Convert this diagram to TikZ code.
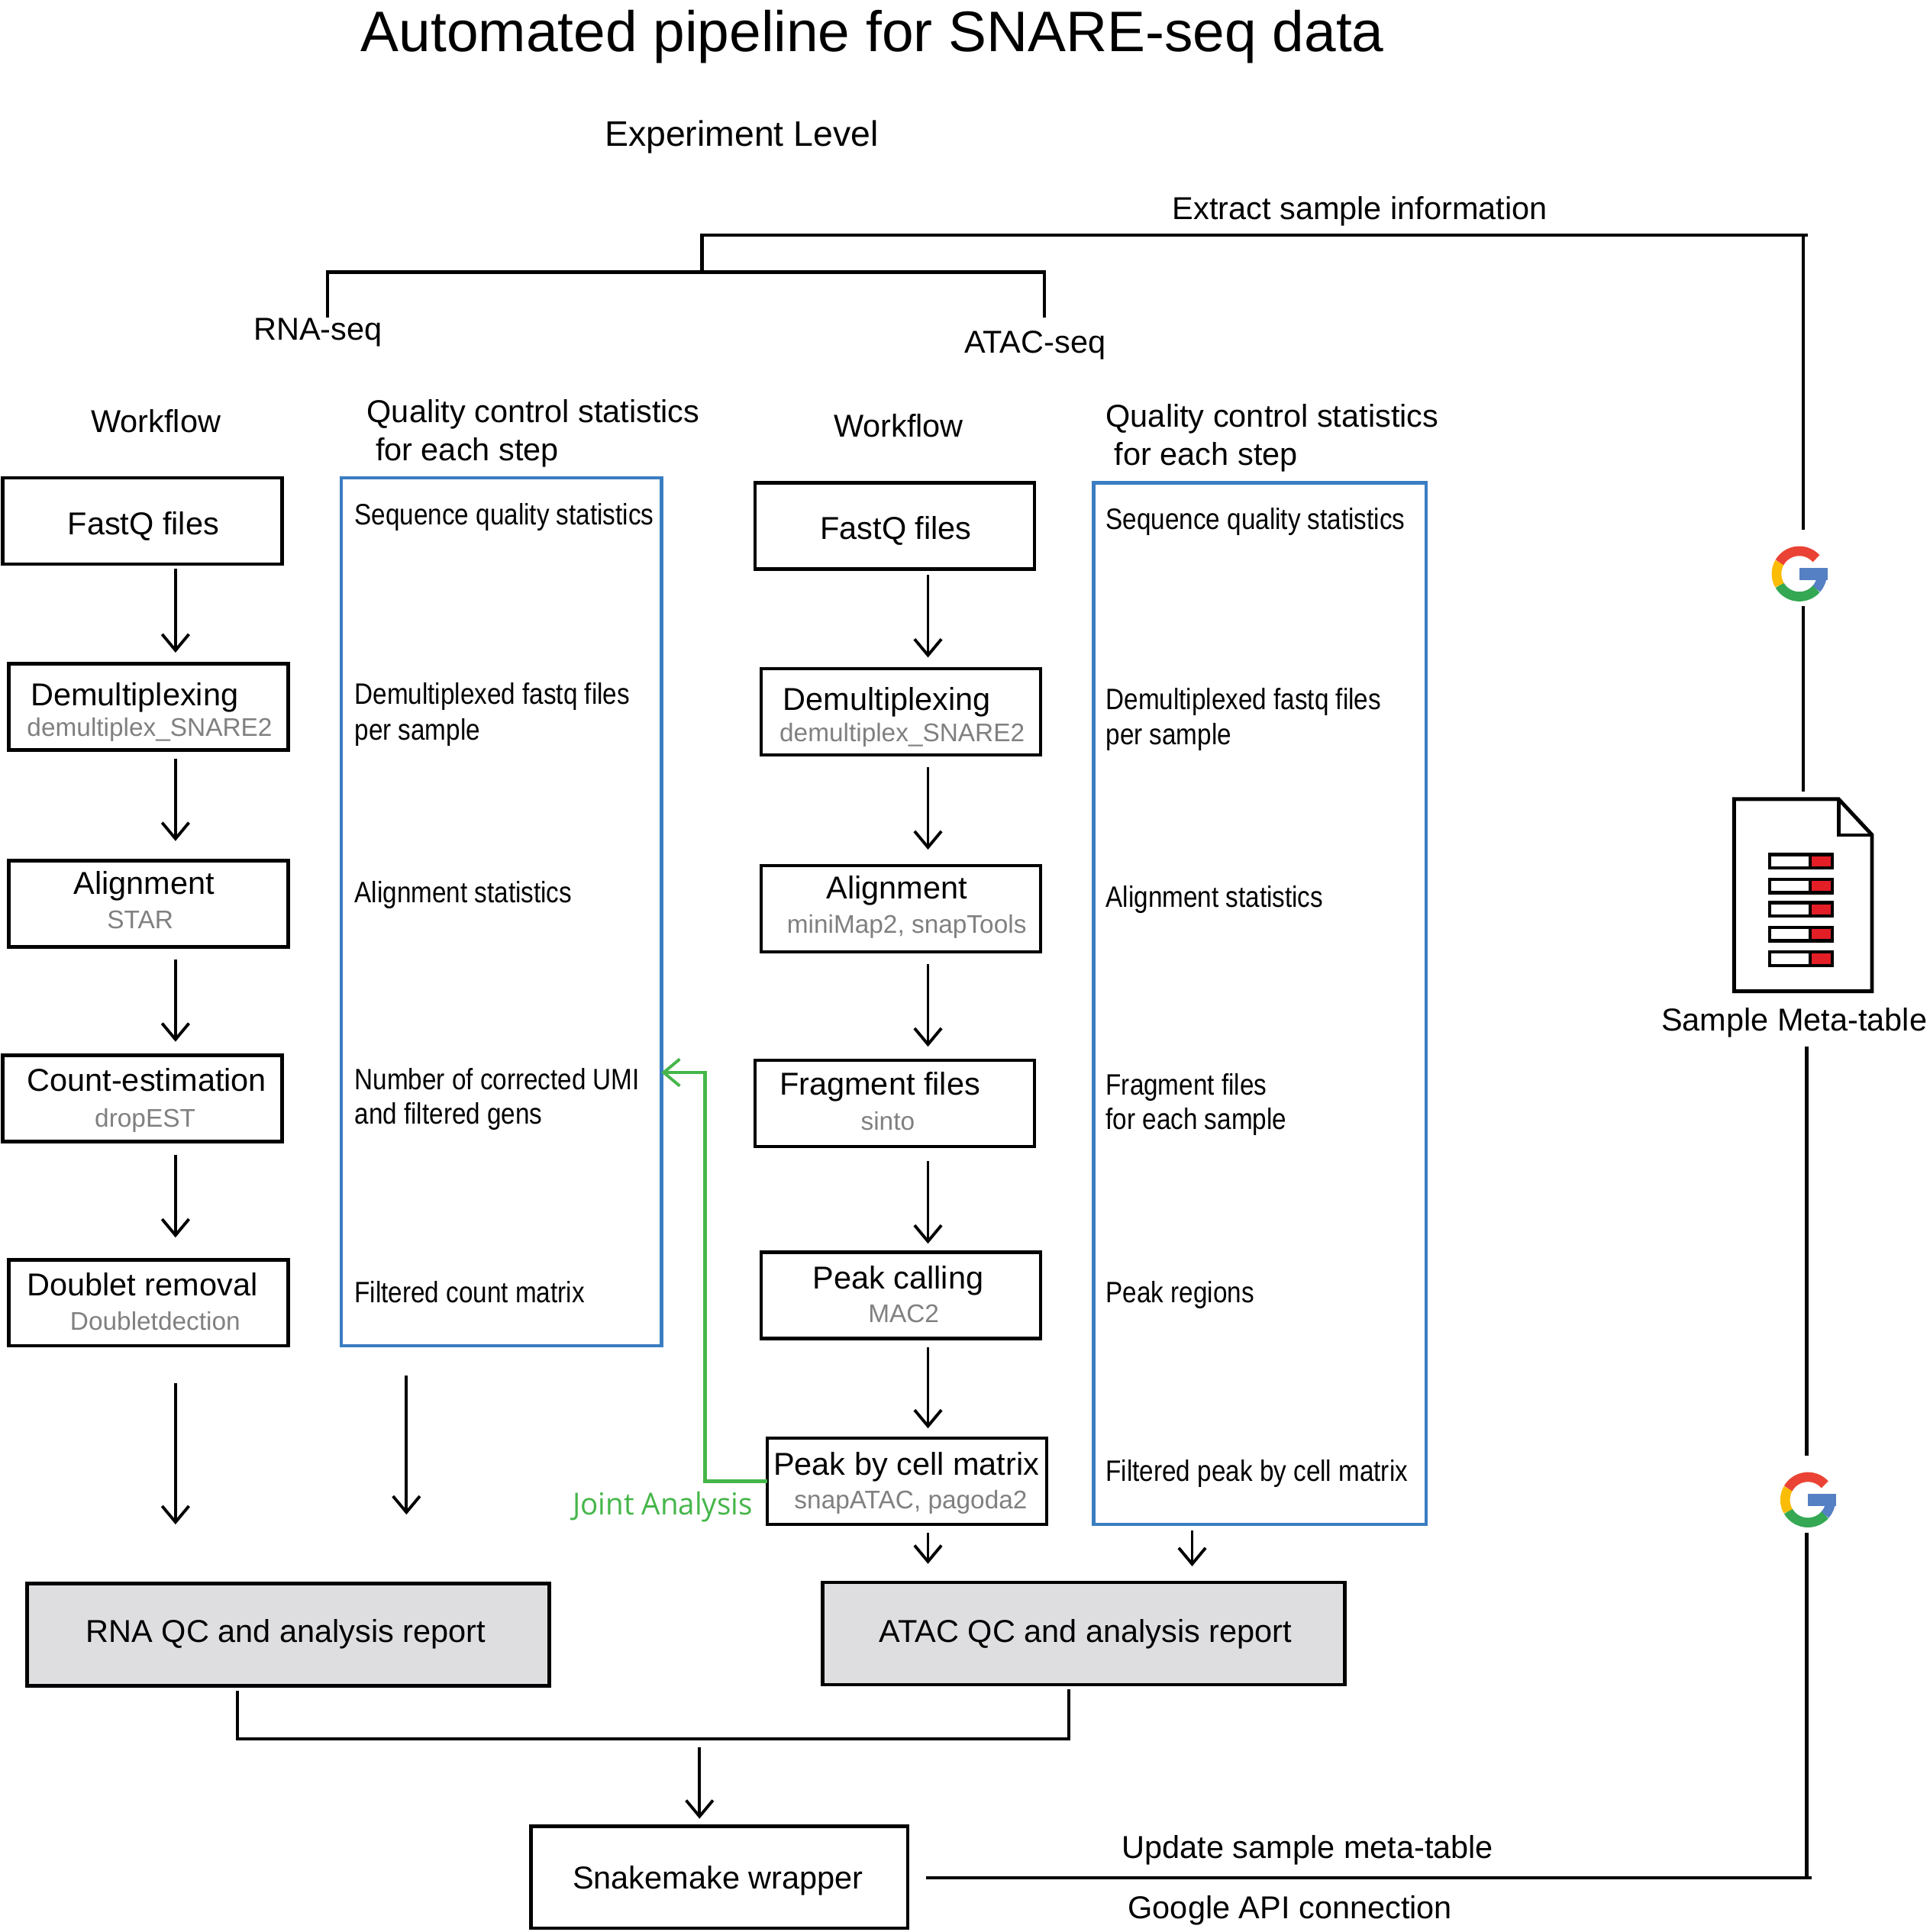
\documentclass[tikz,border=0pt]{standalone}
\usepackage{fontspec}
\setmainfont{Liberation Sans}
\newfontfamily\qcfont[FakeStretch=0.86]{Liberation Sans}
\newfontfamily\jointfont[FakeStretch=0.97]{Open Sans}
\usetikzlibrary{arrows.meta,fit}
\definecolor{qcblue}{HTML}{3A7DC2}
\definecolor{jointgreen}{HTML}{45B649}
\definecolor{toolgray}{HTML}{808080}
\definecolor{reportgray}{HTML}{DEDDDF}
\definecolor{gred}{HTML}{EA4335}
\definecolor{gyellow}{HTML}{FBBC05}
\definecolor{ggreen}{HTML}{34A853}
\definecolor{gblue}{HTML}{5580C4}
\definecolor{barred}{HTML}{E31E26}
\tikzset{
  x=0.016133cm,y=-0.016133cm,
  boxnode/.style={draw=black,line width=1.3pt,inner sep=0pt,outer sep=0pt},
  qcbox/.style={draw=qcblue,line width=1.3pt,inner sep=0pt,outer sep=0pt},
  reportbox/.style={boxnode,fill=reportgray},
  txt/.style={anchor=base west,inner sep=0pt,outer sep=0pt,font=\fontsize{11.8}{14}\selectfont,text=black},
  tool/.style={txt,font=\fontsize{9.5}{12}\selectfont,text=toolgray},
  qctxt/.style={txt,font=\qcfont\fontsize{11}{13}\selectfont},
  arr/.style 2 args={-{Straight Barb[length=6pt,width=10pt,line width=1.1pt]},line width=1.1pt,shorten <=#1*0.459pt,shorten >=#2*0.459pt},
  wire/.style={line width=1.2pt},
  gwire/.style={line width=1.3pt,jointgreen},
}
\newcommand{\glogo}[2]{%
  \begin{scope}[shift={(#1,#2)},yscale=-1,line width=3.6pt]
    \fill[gblue] (0,-5) rectangle (23,5);
    \draw[gblue] (-42:18.5) arc[start angle=-42,end angle=0,radius=18.5];
    \draw[ggreen] (210:18.5) arc[start angle=210,end angle=318,radius=18.5];
    \draw[gyellow] (150:18.5) arc[start angle=150,end angle=210,radius=18.5];
    \draw[gred] (42:18.5) arc[start angle=42,end angle=150,radius=18.5];
  \end{scope}}
\begin{document}
\begin{tikzpicture}
\useasboundingbox[fill=white] (0,0) rectangle (1567,1569);

% headings
\node[txt,font=\fontsize{21.3}{25}\selectfont] (title) at (293,42) {Automated pipeline for SNARE-seq data};
\node[txt,font=\fontsize{13.2}{16}\selectfont] (level) at (491,119) {Experiment Level};
\node[txt] (extract) at (952,178) {Extract sample information};
\node[txt] (rnaseq) at (206,276) {RNA-seq};
\node[txt] (atacseq) at (783,287) {ATAC-seq};
\node[txt] (wfr) at (74,351) {Workflow};
\node[txt] (qcr1) at (298,343) {Quality control statistics};
\node[txt] (qcr2) at (305,374) {for each step};
\node[txt] (wfa) at (677,355) {Workflow};
\node[txt] (qca1) at (898,347) {Quality control statistics};
\node[txt] (qca2) at (905,378) {for each step};

% RNA workflow boxes
\node[boxnode,fit={(2,388)(229,458)}] (r1) {};
\node[boxnode,fit={(7,539)(234,609)}] (r2) {};
\node[boxnode,fit={(7,699)(234,769)}] (r3) {};
\node[boxnode,fit={(2,857)(229,927)}] (r4) {};
\node[boxnode,fit={(7,1023)(234,1093)}] (r5) {};
\node[qcbox,fit={(277,388)(537,1093)}] (rqc) {};

\node[txt] (r1t) at (55,434) {FastQ files};
\node[txt] (r2t) at (25,573) {Demultiplexing};
\node[tool] (r2s) at (22,598) {demultiplex\_SNARE2};
\node[txt] (r3t) at (60,726) {Alignment};
\node[tool] (r3s) at (87,754) {STAR};
\node[txt] (r4t) at (22,886) {Count-estimation};
\node[tool] (r4s) at (77,915) {dropEST};
\node[txt] (r5t) at (22,1052) {Doublet removal};
\node[tool] (r5s) at (57,1080) {Doubletdection};

\node[qctxt] (rq1) at (288,426) {Sequence quality statistics};
\node[qctxt] (rq2) at (288,572) {Demultiplexed fastq files};
\node[qctxt] (rq2b) at (288,601) {per sample};
\node[qctxt] (rq3) at (288,733) {Alignment statistics};
\node[qctxt] (rq4) at (288,885) {Number of corrected UMI};
\node[qctxt] (rq4b) at (288,913) {and filtered gens};
\node[qctxt] (rq5) at (288,1058) {Filtered count matrix};

% ATAC workflow boxes
\node[boxnode,fit={(613,392)(840,462)}] (a1) {};
\node[boxnode,fit={(618,543)(845,613)}] (a2) {};
\node[boxnode,fit={(618,703)(845,773)}] (a3) {};
\node[boxnode,fit={(613,861)(840,931)}] (a4) {};
\node[boxnode,fit={(618,1017)(845,1087)}] (a5) {};
\node[boxnode,fit={(623,1168)(850,1238)}] (a6) {};
\node[qcbox,fit={(888,392)(1158,1238)}] (aqc) {};

\node[txt] (a1t) at (666,438) {FastQ files};
\node[txt] (a2t) at (636,577) {Demultiplexing};
\node[tool] (a2s) at (633,602) {demultiplex\_SNARE2};
\node[txt] (a3t) at (671,730) {Alignment};
\node[tool] (a3s) at (639,758) {miniMap2, snapTools};
\node[txt] (a4t) at (633,889) {Fragment files};
\node[tool] (a4s) at (699,918) {sinto};
\node[txt] (a5t) at (660,1047) {Peak calling};
\node[tool] (a5s) at (705,1074) {MAC2};
\node[txt] (a6t) at (628,1198) {Peak by cell matrix};
\node[tool] (a6s) at (645,1225) {snapATAC, pagoda2};

\node[qctxt] (aq1) at (898,430) {Sequence quality statistics};
\node[qctxt] (aq2) at (898,576) {Demultiplexed fastq files};
\node[qctxt] (aq2b) at (898,605) {per sample};
\node[qctxt] (aq3) at (898,737) {Alignment statistics};
\node[qctxt] (aq4) at (898,889) {Fragment files};
\node[qctxt] (aq4b) at (898,917) {for each sample};
\node[qctxt] (aq5) at (898,1058) {Peak regions};
\node[qctxt] (aq6) at (898,1203) {Filtered peak by cell matrix};

\node[txt,font=\jointfont\fontsize{11.3}{14}\selectfont,text=jointgreen] (joint) at (465,1230) {Joint Analysis};

% reports
\node[reportbox,fit={(22,1286)(446,1369)}] (rrep) {};
\node[reportbox,fit={(668,1285)(1092,1368)}] (arep) {};
\node[boxnode,fit={(431,1483)(737,1566)}] (snake) {};
\node[txt] (rrept) at (70,1334) {RNA QC and analysis report};
\node[txt] (arept) at (714,1334) {ATAC QC and analysis report};
\node[txt] (snaket) at (465,1534) {Snakemake wrapper};
\node[txt] (update) at (911,1509) {Update sample meta-table};
\node[txt] (gapi) at (916,1558) {Google API connection};
\node[txt] (metat) at (1349,837) {Sample Meta-table};

% x-positions of the vertical arrows
\coordinate (rx) at (142.5,0);
\coordinate (qx) at (330,0);
\coordinate (ax) at (753.5,0);
\coordinate (bx) at (968,0);

% RNA arrows
\draw[arr={4}{9}] (rx |- r1.south) -- (rx |- r2.north);
\draw[arr={7}{16}] (rx |- r2.south) -- (rx |- r3.north);
\draw[arr={10}{11}] (rx |- r3.south) -- (rx |- r4.north);
\draw[arr={11}{18}] (rx |- r4.south) -- (rx |- r5.north);
\draw[arr={30}{48}] (rx |- r5.south) -- (rx |- rrep.north);
\draw[arr={24}{56}] (qx |- rqc.south) -- (qx |- rrep.north);

% ATAC arrows
\draw[arr={5}{9}] (ax |- a1.south) -- (ax |- a2.north);
\draw[arr={10}{13}] (ax |- a2.south) -- (ax |- a3.north);
\draw[arr={10}{11}] (ax |- a3.south) -- (ax |- a4.north);
\draw[arr={12}{7}] (ax |- a4.south) -- (ax |- a5.north);
\draw[arr={7}{8}] (ax |- a5.south) -- (ax |- a6.north);
\draw[arr={7}{15}] (ax |- a6.south) -- (ax |- arep.north);
\draw[arr={5}{13}] (bx |- aqc.south) -- (bx |- arep.north);

% joint analysis link
\coordinate (jx) at (572.5,0);
\coordinate (jy) at (0,871);
\coordinate (jb) at (0,1203);
\draw[gwire,-{Straight Barb[length=6pt,width=10pt,line width=1.1pt]}]
  (a6.west |- jb) -- (jx |- jb) -- (jx |- jy) -- (rqc.east |- jy);

% report merge
\coordinate (mr) at (193,1373);
\coordinate (ma) at (868,1372);
\coordinate (mb) at (0,1412);
\draw[wire] (mr) -- (mr |- mb) -- (ma |- mb) -- (ma);
\coordinate (marrow) at (568,1419);
\draw[arr={0}{6}] (marrow) -- (marrow |- snake.north);

% top tree
\coordinate (tl) at (266,258);
\coordinate (tr) at (848,258);
\coordinate (ty) at (0,221);
\coordinate (tm) at (570,221);
\coordinate (th) at (570,191);
\coordinate (te) at (1468,191);
\draw[wire] (tl) -- (tl |- ty) -- (tr |- ty) -- (tr);
\draw[wire] (tm) -- (th) -- (te);

% Google links and sample meta-table
\coordinate (v1) at (1464,191);
\coordinate (v1a) at (1464,430);
\coordinate (v1b) at (1464,492);
\coordinate (v1c) at (1464,643);
\coordinate (v2) at (1467,850);
\coordinate (v2a) at (1467,1182);
\coordinate (v2b) at (1467,1245);
\coordinate (v2c) at (1467,1525);
\coordinate (ue) at (1471,1525);
\coordinate (us) at (752,1525);
\draw[wire] (v1) -- (v1a);
\draw[wire] (v1b) -- (v1c);
\draw[wire] (v2) -- (v2a);
\draw[wire] (v2b) -- (v2c);
\draw[wire] (us) -- (ue);
\glogo{1461}{466}
\glogo{1468}{1218}

% document icon
\draw[line width=1.4pt,fill=white,line join=miter] (1408,649) -- (1493,649) -- (1520,678) -- (1520,805) -- (1408,805) -- cycle;
\draw[line width=1.2pt] (1493,649) -- (1493,678) -- (1520,678);
\foreach \ya/\yb in {694/705,714/725,733/744,753/764,773/784}{
  \fill[barred] (1469,\ya) rectangle (1488,\yb);
  \draw[line width=1.2pt] (1437,\ya) rectangle (1488,\yb);
  \draw[line width=1.2pt] (1470,\ya) -- (1470,\yb);
}
\end{tikzpicture}
\end{document}
